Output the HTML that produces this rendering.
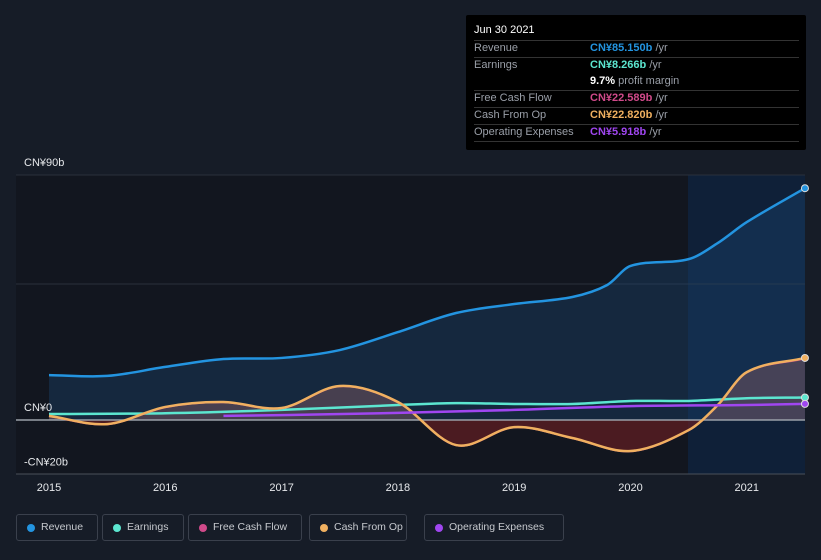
<!DOCTYPE html>
<html><head><meta charset="utf-8"><style>
body{margin:0;background:#161c27;font-family:"Liberation Sans",sans-serif;}
#wrap{position:relative;width:821px;height:560px;overflow:hidden}
.tt{position:absolute;left:466px;top:15px;width:340px;height:135px;background:#000;border-radius:2px}
.tt div{position:absolute;font-size:11px;color:#9a9fa8;white-space:nowrap}
.leg{position:absolute;top:514px;height:27px;border:1px solid #3a404c;border-radius:3px;color:#c6c9ce;font-size:10.5px;line-height:25px;box-sizing:border-box;padding-left:24px;white-space:nowrap;overflow:hidden}
.leg i{position:absolute;left:10px;top:9px;width:8px;height:8px;border-radius:50%}
</style></head><body><div id="wrap">
<svg id="svg" width="821" height="560" style="position:absolute;left:0;top:0"></svg>
<div class="tt">
<div style="left:8px;top:9px;color:#fff;font-size:11px">Jun 30 2021</div>
<div style="left:8px;top:25px;width:325px;border-top:1px solid #333"></div>
<div style="left:8px;top:27px">Revenue</div><div style="left:124px;top:27px;color:#2394e0;font-weight:bold">CN¥85.150b <span style="color:#9a9fa8;font-weight:normal">/yr</span></div>
<div style="left:8px;top:42px;width:325px;border-top:1px solid #333"></div>
<div style="left:8px;top:44px">Earnings</div><div style="left:124px;top:44px;color:#5ce6d0;font-weight:bold">CN¥8.266b <span style="color:#9a9fa8;font-weight:normal">/yr</span></div>
<div style="left:124px;top:60px;color:#fff;font-weight:bold">9.7% <span style="color:#9a9fa8;font-weight:normal">profit margin</span></div>
<div style="left:8px;top:75px;width:325px;border-top:1px solid #333"></div>
<div style="left:8px;top:77px">Free Cash Flow</div><div style="left:124px;top:77px;color:#d04a8a;font-weight:bold">CN¥22.589b <span style="color:#9a9fa8;font-weight:normal">/yr</span></div>
<div style="left:8px;top:92px;width:325px;border-top:1px solid #333"></div>
<div style="left:8px;top:94px">Cash From Op</div><div style="left:124px;top:94px;color:#f0b060;font-weight:bold">CN¥22.820b <span style="color:#9a9fa8;font-weight:normal">/yr</span></div>
<div style="left:8px;top:109px;width:325px;border-top:1px solid #333"></div>
<div style="left:8px;top:111px">Operating Expenses</div><div style="left:124px;top:111px;color:#a046f0;font-weight:bold">CN¥5.918b <span style="color:#9a9fa8;font-weight:normal">/yr</span></div>
<div style="left:8px;top:126px;width:325px;border-top:1px solid #333"></div>
</div>
<div class="leg" style="left:16px;width:82px"><i style="background:#2394e0"></i>Revenue</div>
<div class="leg" style="left:102px;width:82px"><i style="background:#5ce6d0"></i>Earnings</div>
<div class="leg" style="left:188px;width:114px"><i style="background:#d04a8a"></i>Free Cash Flow</div>
<div class="leg" style="left:309px;width:98px"><i style="background:#f0b060"></i>Cash From Op</div>
<div class="leg" style="left:424px;width:140px"><i style="background:#a046f0"></i>Operating Expenses</div>
</div>
<script>
const revX=[2015,2015.5,2016,2016.5,2017,2017.5,2018,2018.5,2019,2019.5,2019.8,2020,2020.5,2020.75,2021,2021.5];
const revV=[16.5,16.2,19.5,22.4,22.8,25.7,32.3,39.3,42.6,45.2,49.6,56.6,59.1,65,72.7,85.15];
const earnX=[2015,2016,2017,2018,2018.5,2019,2019.5,2020,2020.5,2021,2021.5];
const earnV=[2.2,2.5,3.7,5.5,6.2,5.9,5.9,7,7,8,8.27];
const cfoX=[2015,2015.5,2016,2016.5,2017,2017.5,2018,2018.5,2019,2019.5,2020,2020.5,2020.75,2021,2021.5];
const cfoV=[1.5,-1.5,4.8,6.6,4.4,12.5,6.6,-9.2,-2.6,-6.6,-11.4,-3.7,5.5,17.6,22.8];
const fcfV=[1.4,-1.6,4.7,6.5,4.3,12.4,6.5,-9.3,-2.7,-6.7,-11.5,-3.8,5.4,17.5,22.59];
const opxX=[2016.5,2017,2018,2019,2020,2021,2021.5];
const opxV=[1.5,1.8,2.6,3.7,5.1,5.5,5.92];
const yTicks=[90,0,-20];const yLabels=['CN¥90b','CN¥0','-CN¥20b'];
const xTicks=[2015,2016,2017,2018,2019,2020,2021];
const X=t=>49+(t-2015)*116.3, Y=v=>420-v*2.722;
const svg=document.getElementById('svg');const NS='http://www.w3.org/2000/svg';
function el(t,a,p){const e=document.createElementNS(NS,t);for(const k in a)e.setAttribute(k,a[k]);(p||svg).appendChild(e);return e;}
function path(xs,vs){const P=xs.map((x,i)=>[X(x),Y(vs[i])]);let d='M'+P[0][0]+','+P[0][1];
for(let i=0;i<P.length-1;i++){const p0=P[Math.max(0,i-1)],p1=P[i],p2=P[i+1],p3=P[Math.min(P.length-1,i+2)];
const h=p2[0]-p1[0];
const s1=(p2[1]-p0[1])/(p2[0]-p0[0]||1), s2=(p3[1]-p1[1])/(p3[0]-p1[0]||1);
d+=' C'+(p1[0]+h/3)+','+(p1[1]+s1*h/3)+' '+(p2[0]-h/3)+','+(p2[1]-s2*h/3)+' '+p2[0]+','+p2[1];}return d;}
const defs=el('defs',{});
const cp=el('clipPath',{id:'neg'},defs);el('rect',{x:0,y:420,width:821,height:60},cp);
const cp2=el('clipPath',{id:'pos'},defs);el('rect',{x:0,y:0,width:821,height:420},cp2);
el('rect',{x:16,y:175,width:672,height:299,fill:'#12161f',});
el('rect',{x:688,y:175,width:117,height:299,fill:'#0f2038',});
[175,284].forEach(y=>el('line',{x1:16,x2:805,y1:y,y2:y,stroke:'#2a303b'}));
const rp=path(revX,revV);
el('path',{d:rp+' L'+X(2021.5)+','+Y(0)+' L'+X(2015)+','+Y(0)+'Z',fill:'#1e4a78','fill-opacity':0.35,});
const cpth=path(cfoX,cfoV);
el('path',{d:cpth+' L'+X(2021.5)+','+Y(0)+' L'+X(2015)+','+Y(0)+'Z',fill:'#7a5560','fill-opacity':0.5,'clip-path':'url(#pos)',});
el('path',{d:cpth+' L'+X(2021.5)+','+Y(0)+' L'+X(2015)+','+Y(0)+'Z',fill:'#6a1f24','fill-opacity':0.65,'clip-path':'url(#neg)',});
el('line',{x1:16,x2:805,y1:420,y2:420,stroke:'#9aa0a8','stroke-width':1.5,});
el('line',{x1:16,x2:805,y1:474,y2:474,stroke:'#4a505a',});
el('path',{d:rp,fill:'none',stroke:'#2394e0','stroke-width':2.5,});
el('path',{d:path(earnX,earnV),fill:'none',stroke:'#5ce6d0','stroke-width':2.5,});
el('path',{d:path(cfoX,fcfV),fill:'none',stroke:'#d04a8a','stroke-width':2,});
el('path',{d:path(cfoX,cfoV),fill:'none',stroke:'#f0b060','stroke-width':2.5,});
el('path',{d:path(opxX,opxV),fill:'none',stroke:'#a046f0','stroke-width':2.5,});
[[revV,'#2394e0'],[cfoV,'#f0b060'],[earnV,'#5ce6d0'],[opxV,'#a046f0']].forEach(([v,c])=>el('circle',{cx:X(2021.5),cy:Y(v[v.length-1]),r:3.5,fill:c,stroke:'#ddd','stroke-width':1,}));
yTicks.forEach((v,i)=>{const t=el('text',{x:24,y:Y(v)-9,fill:'#e6e8eb','font-size':11,});t.textContent=yLabels[i];});
xTicks.forEach(v=>{const t=el('text',{x:X(v),y:491,fill:'#e6e8eb','font-size':11,'text-anchor':'middle',});t.textContent=v;});
</script></body></html>
